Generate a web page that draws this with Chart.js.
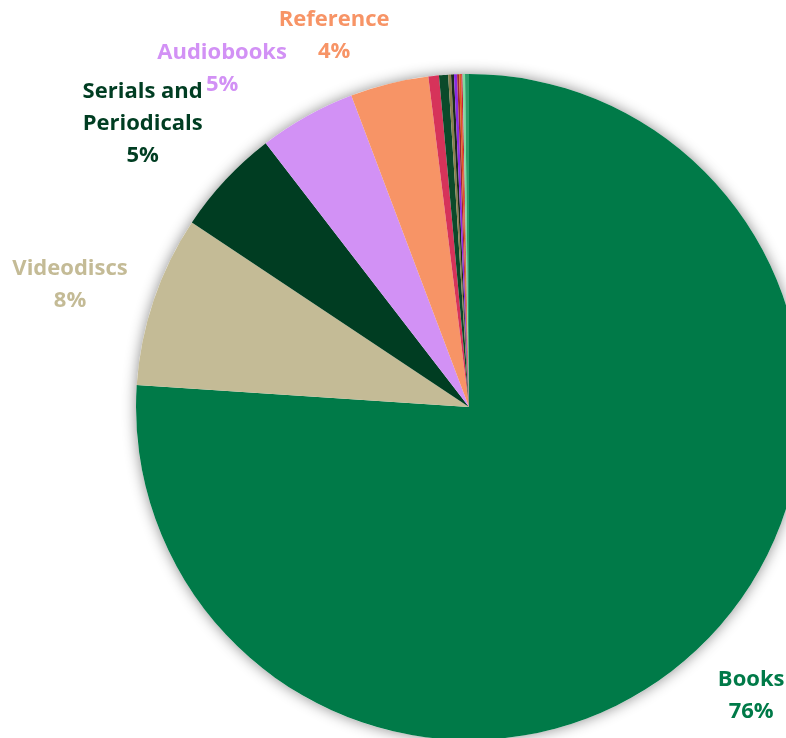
<!DOCTYPE html>
<html>
<head>
<meta charset="utf-8">
<script src="https://cdn.jsdelivr.net/npm/chart.js@4"></script>
<style>
  html, body { margin: 0; padding: 0; background: #fff; overflow: hidden; width: 786px; height: 738px; }
  canvas { position: absolute; left: 0; top: 0; }
</style>
</head>
<body>
<canvas id="formatPie" width="938" height="814"></canvas>
<script>
// share of circulation by format (percent)
const formats = ["Books", "Videodiscs", "Serials and Periodicals", "Audiobooks", "Reference",
  "Music CDs", "eBooks", "Kits", "Microforms", "Games", "Maps", "Software", "Art Prints", "Equipment", "Other"];
const shares = [76.05, 8.3, 5.2, 4.7, 3.8, 0.51, 0.44, 0.14, 0.14, 0.15, 0.1, 0.1, 0.06, 0.12, 0.19];
const sliceColors = ['#007A48', '#C4BB96', '#003D22', '#D291F5', '#F79466',
  '#D6335A', '#0B4A2A', '#8A7F4E', '#1A2A1A', '#8B2BE2', '#A0282E', '#E05A1E', '#C81E3C', '#7ED9A0', '#2A9E6A'];

// which slices carry a label, and how the label lines break
const labelLines = {
  0: ["Books"],
  1: ["Videodiscs"],
  2: ["Serials and", "Periodicals"],
  3: ["Audiobooks"],
  4: ["Reference"]
};
// radial distance (x radius) and angle nudge (deg) per label
const labelPlace = {
  0: [1.213, -1.2],
  1: [1.253, -1.7],
  2: [1.298, -2.05],
  3: [1.258, -6.95],
  4: [1.186, -6.1]
};

const shadowPlugin = {
  id: 'pieShadow',
  beforeDatasetsDraw(chart) {
    const arc = chart.getDatasetMeta(0).data[0];
    if (!arc) return;
    const { x, y, outerRadius } = arc.getProps(['x', 'y', 'outerRadius'], true);
    const ctx = chart.ctx;
    ctx.save();
    ctx.shadowColor = 'rgba(0,0,0,0.45)';
    ctx.shadowBlur = 14;
    ctx.fillStyle = '#ffffff';
    ctx.beginPath();
    ctx.arc(x, y, outerRadius, 0, Math.PI * 2);
    ctx.fill();
    ctx.restore();
  }
};

const labelPlugin = {
  id: 'outsideLabels',
  afterDatasetsDraw(chart) {
    const meta = chart.getDatasetMeta(0);
    const total = shares.reduce((a, b) => a + b, 0);
    const ctx = chart.ctx;
    ctx.save();
    ctx.font = 'bold 22px "Open Sans"';
    ctx.textAlign = 'center';
    ctx.textBaseline = 'middle';
    Object.keys(labelLines).forEach(key => {
      const i = Number(key);
      const arc = meta.data[i];
      const p = arc.getProps(['x', 'y', 'startAngle', 'endAngle', 'outerRadius'], true);
      const [k, nudge] = labelPlace[i];
      const mid = (p.startAngle + p.endAngle) / 2 + nudge * Math.PI / 180;
      const cx = p.x + Math.cos(mid) * p.outerRadius * k;
      const cy = p.y + Math.sin(mid) * p.outerRadius * k;
      const lines = labelLines[i].concat([Math.round(shares[i] / total * 100) + '%']);
      const lh = 32;
      const top = cy - (lines.length - 1) * lh / 2;
      ctx.fillStyle = sliceColors[i];
      lines.forEach((t, j) => ctx.fillText(t, cx, top + j * lh));
    });
    ctx.restore();
  }
};

new Chart(document.getElementById('formatPie').getContext('2d'), {
  type: 'pie',
  data: {
    labels: formats,
    datasets: [{
      data: shares,
      backgroundColor: sliceColors,
      borderWidth: 0
    }]
  },
  options: {
    responsive: false,
    animation: false,
    layout: { padding: 74 },
    plugins: {
      legend: { display: false },
      tooltip: { enabled: false }
    }
  },
  plugins: [shadowPlugin, labelPlugin]
});
</script>
</body>
</html>
